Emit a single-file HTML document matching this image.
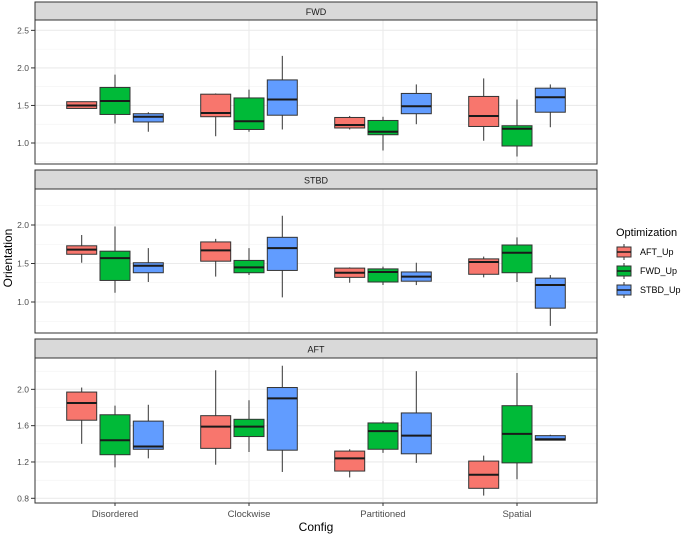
<!DOCTYPE html>
<html><head><meta charset="utf-8"><style>
body{margin:0;background:#fff;}
svg{display:block;font-family:"Liberation Sans",Arial,sans-serif;}
</style></head><body>
<svg id="chart" width="685" height="534" xmlns="http://www.w3.org/2000/svg"></svg>
<script>
const categories = ["Disordered","Clockwise","Partitioned","Spatial"];
const seriesNames = ["AFT_Up","FWD_Up","STBD_Up"];
const panelNames = ["FWD","STBD","AFT"];
// [lower whisker, q1, median, q3, upper whisker] per category per series
const fwdData = [
 [[1.46,1.46,1.50,1.55,1.55],[1.26,1.38,1.56,1.74,1.91],[1.15,1.28,1.35,1.39,1.41]],
 [[1.09,1.35,1.40,1.65,1.66],[1.15,1.18,1.29,1.60,1.71],[1.18,1.37,1.58,1.84,2.16]],
 [[1.18,1.20,1.24,1.34,1.36],[0.90,1.11,1.15,1.30,1.35],[1.25,1.39,1.49,1.66,1.78]],
 [[1.03,1.22,1.36,1.62,1.86],[0.82,0.96,1.19,1.23,1.58],[1.21,1.41,1.61,1.73,1.78]]
];
const stbdData = [
 [[1.51,1.62,1.68,1.73,1.87],[1.12,1.28,1.57,1.66,1.98],[1.26,1.38,1.47,1.51,1.70]],
 [[1.33,1.53,1.67,1.78,1.82],[1.35,1.38,1.45,1.54,1.70],[1.06,1.41,1.70,1.84,2.12]],
 [[1.25,1.32,1.38,1.44,1.45],[1.22,1.26,1.39,1.43,1.46],[1.22,1.27,1.33,1.39,1.51]],
 [[1.32,1.36,1.52,1.56,1.59],[1.26,1.38,1.64,1.74,1.84],[0.69,0.92,1.22,1.31,1.35]]
];
const aftData = [
 [[1.40,1.66,1.85,1.97,2.02],[1.14,1.28,1.44,1.72,1.82],[1.24,1.34,1.37,1.65,1.83]],
 [[1.17,1.35,1.59,1.71,2.21],[1.31,1.48,1.59,1.67,1.88],[1.09,1.33,1.90,2.02,2.26]],
 [[1.03,1.10,1.24,1.32,1.34],[1.30,1.34,1.54,1.63,1.65],[1.19,1.29,1.49,1.74,2.20]],
 [[0.83,0.91,1.06,1.21,1.27],[1.01,1.19,1.51,1.82,2.18],[1.44,1.44,1.45,1.49,1.50]]
];
const fwdTicks = [1.0,1.5,2.0,2.5];
const stbdTicks = [1.0,1.5,2.0];
const aftTicks = [0.8,1.2,1.6,2.0];
const fwdTickLabels = ["1.0","1.5","2.0","2.5"];
const stbdTickLabels = ["1.0","1.5","2.0"];
const aftTickLabels = ["0.8","1.2","1.6","2.0"];

const colors = ["#F8766D","#00BA38","#619CFF"];
const NS="http://www.w3.org/2000/svg";
const svg=document.getElementById('chart');
function mk(tag,attrs,parent){const e=document.createElementNS(NS,tag);for(const k in attrs)e.setAttribute(k,attrs[k]);(parent||svg).appendChild(e);return e;}

const X0=35,X1=597;
const c0=115,cStep=134;
function catCenter(ci){return c0+ci*cStep;}
function xScale(ci,si){return catCenter(ci)+(si-1)*33.3;}
const panels=[
 {name:panelNames[0],data:fwdData,ticks:fwdTicks,labels:fwdTickLabels,sy:2,top:20,bot:164,v0:1.0,p0:143,ppu:75.1,minor:0.25},
 {name:panelNames[1],data:stbdData,ticks:stbdTicks,labels:stbdTickLabels,sy:170,top:189,bot:333,v0:1.0,p0:302,ppu:77,minor:0.25},
 {name:panelNames[2],data:aftData,ticks:aftTicks,labels:aftTickLabels,sy:339,top:358,bot:503,v0:0.8,p0:498.3,ppu:90.8,minor:0.2}
];
panels.forEach((p,pi)=>{
 const g=mk('g',{});
 
 
 const y=v=>p.p0-(v-p.v0)*p.ppu;
 const st=mk('rect',{x:X0,y:p.sy,width:X1-X0,height:p.top-p.sy,fill:'#D9D9D9',stroke:'#333','stroke-width':1},g);
 
 
 const stt=mk('text',{x:(X0+X1)/2,y:(p.sy+p.top)/2+4,'text-anchor':'middle','font-size':9,fill:'#1A1A1A'},g);
 stt.textContent=p.name;
 
 
 const vmin=p.v0-(p.bot-p.p0)/p.ppu, vmax=p.v0+(p.p0-p.top)/p.ppu;
 for(let v=p.ticks[0]-p.minor;v<vmax;v+=2*p.minor){if(v<vmin)continue;mk('line',{x1:X0,x2:X1,y1:y(v),y2:y(v),stroke:'#F2F2F2','stroke-width':0.6},g);}
 p.ticks.forEach((t,i)=>{
  mk('line',{x1:X0,x2:X1,y1:y(t),y2:y(t),stroke:'#EBEBEB','stroke-width':1.1},g);
  mk('line',{x1:31,x2:X0,y1:y(t),y2:y(t),stroke:'#333','stroke-width':1},g);
  const tl=mk('text',{x:29,y:y(t)+3,'text-anchor':'end','font-size':8.5,fill:'#4D4D4D'},g);
  tl.textContent=p.labels[i];
  
  
 });
 categories.forEach((c,ci)=>mk('line',{x1:catCenter(ci),x2:catCenter(ci),y1:p.top,y2:p.bot,stroke:'#EBEBEB','stroke-width':1.1},g));
 p.data.forEach((cat,ci)=>cat.forEach((d,si)=>{
  const cx=xScale(ci,si),w=30;
  const bg=mk('g',{},g);
  
  
  mk('line',{x1:cx,x2:cx,y1:y(d[0]),y2:y(d[4]),stroke:'#333','stroke-width':1},bg);
  mk('rect',{x:cx-w/2,y:y(d[3]),width:w,height:Math.max(y(d[1])-y(d[3]),0.5),fill:colors[si],stroke:'#333','stroke-width':1},bg);
  mk('line',{x1:cx-w/2,x2:cx+w/2,y1:y(d[2]),y2:y(d[2]),stroke:'#1A1A1A','stroke-width':2},bg);
 }));
 mk('rect',{x:X0,y:p.top,width:X1-X0,height:p.bot-p.top,fill:'none',stroke:'#333','stroke-width':1},g);
});
categories.forEach((c,ci)=>{
 mk('line',{x1:catCenter(ci),x2:catCenter(ci),y1:503,y2:506,stroke:'#333','stroke-width':1});
 const t=mk('text',{x:catCenter(ci),y:517,'text-anchor':'middle','font-size':9.5,fill:'#4D4D4D'});
 t.textContent=c;
 
 
});
const xt=mk('text',{x:316,y:531,'text-anchor':'middle','font-size':12,fill:'#000'});
xt.textContent='Config';


const yt=mk('text',{x:12,y:258,'text-anchor':'middle','font-size':12,fill:'#000',transform:'rotate(-90 12 258)'});
yt.textContent='Orientation';


const lt=mk('text',{x:616,y:236,'font-size':11,fill:'#000'});
lt.textContent='Optimization';


const ly=[252,271,290];
seriesNames.forEach((s,i)=>{
 const lg=mk('g',{});
 
 
 mk('line',{x1:624,x2:624,y1:ly[i]-8,y2:ly[i]+8,stroke:'#333','stroke-width':1},lg);
 mk('rect',{x:617,y:ly[i]-5,width:14,height:10,fill:colors[i],stroke:'#333','stroke-width':1},lg);
 mk('line',{x1:617,x2:631,y1:ly[i],y2:ly[i],stroke:'#1A1A1A','stroke-width':1.5},lg);
 const t=mk('text',{x:640,y:ly[i]+3,'font-size':9,fill:'#000'},lg);
 t.textContent=s;
});
</script>
</body></html>
